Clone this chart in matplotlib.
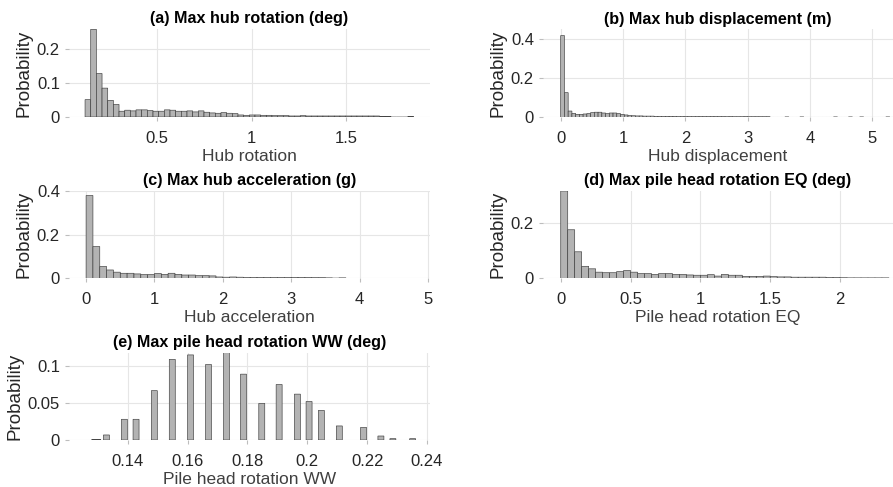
import matplotlib
matplotlib.use('Agg')
import matplotlib.pyplot as plt
from matplotlib.ticker import FuncFormatter
import numpy as np

plt.rcParams['font.family'] = ['Liberation Sans', 'DejaVu Sans']

# (a) hub rotation, bins of 0.03 starting at 0.117
a_start, a_width = 0.117, 0.03
a_prob = [0.051, 0.258, 0.128, 0.085, 0.049, 0.037, 0.017, 0.020, 0.018, 0.021,
          0.021, 0.019, 0.017, 0.017, 0.021, 0.020, 0.017, 0.017, 0.018, 0.015,
          0.018, 0.014, 0.012, 0.011, 0.013, 0.011, 0.010, 0.006, 0.005, 0.006,
          0.006, 0.005, 0.005, 0.004, 0.004, 0.004, 0.003, 0.003, 0.004, 0.003,
          0.003, 0.003, 0.003, 0.003, 0.003, 0.003, 0.003, 0.003, 0.003, 0.003,
          0.003, 0.003, 0.002, 0.002, 0.0, 0.0, 0.0, 0.002]

# (b) hub displacement, bins of 0.06 starting at 0
b_start, b_width = 0.0, 0.06
b_prob = [0.418, 0.126, 0.032, 0.020, 0.015, 0.015, 0.017, 0.019, 0.024, 0.026,
          0.026, 0.022, 0.019, 0.022, 0.022, 0.019, 0.015, 0.012, 0.009, 0.008,
          0.007, 0.007, 0.006, 0.006, 0.006, 0.005, 0.005, 0.005, 0.005, 0.005,
          0.005, 0.004, 0.004, 0.004, 0.004, 0.004, 0.004, 0.004, 0.004, 0.004,
          0.004, 0.004, 0.004, 0.004, 0.003, 0.004, 0.003, 0.003, 0.003, 0.004,
          0.003, 0.003, 0.003, 0.003, 0.003, 0.003, 0.0, 0.0, 0.0, 0.0,
          0.002, 0.0, 0.0, 0.0, 0.002, 0.0, 0.0, 0.0, 0.0, 0.0,
          0.0, 0.0, 0.0, 0.002, 0.0, 0.0, 0.0, 0.002, 0.0, 0.0,
          0.002, 0.0, 0.0, 0.0, 0.0, 0.0, 0.0, 0.002, 0.0]

# (c) hub acceleration, bins of 0.1 starting at 0
c_start, c_width = 0.0, 0.1
c_prob = [0.378, 0.145, 0.054, 0.038, 0.028, 0.023, 0.023, 0.020, 0.017, 0.017,
          0.022, 0.018, 0.023, 0.018, 0.015, 0.015, 0.012, 0.012, 0.011, 0.006,
          0.005, 0.006, 0.005, 0.004, 0.004, 0.004, 0.004, 0.004, 0.004, 0.004,
          0.004, 0.004, 0.004, 0.003, 0.003, 0.002, 0.001, 0.002]

# (d) pile head rotation EQ, bins of 0.05 starting at 0
d_start, d_width = 0.0, 0.05
d_prob = [0.313, 0.174, 0.095, 0.043, 0.034, 0.022, 0.020, 0.020, 0.024, 0.028,
          0.022, 0.017, 0.017, 0.014, 0.017, 0.017, 0.014, 0.014, 0.012, 0.011,
          0.011, 0.013, 0.008, 0.014, 0.011, 0.011, 0.007, 0.007, 0.007, 0.008,
          0.006, 0.005, 0.005, 0.004, 0.004, 0.004, 0.004, 0.004, 0.003, 0.003,
          0.002, 0.0015, 0.0015, 0.0015, 0.0015, 0.0015, 0.0015]

# (e) pile head rotation WW, discrete values
e_vals = [0.1295, 0.1329, 0.1389, 0.1428, 0.1489, 0.1549, 0.1610, 0.1670, 0.1730,
          0.1787, 0.1848, 0.1906, 0.1967, 0.2006, 0.2047, 0.2107, 0.2188, 0.2246,
          0.2286, 0.2352]
e_prob = [0.0008, 0.0068, 0.028, 0.028, 0.0667, 0.109, 0.115, 0.102, 0.118,
          0.089, 0.0495, 0.075, 0.062, 0.052, 0.040, 0.019, 0.017, 0.0054,
          0.0018, 0.0018]
e_widths = [0.003] + [0.002] * 19

FACE = '#b3b3b3'
EDGE = '#3c3c3c'
fmt = FuncFormatter(lambda v, p: '%g' % round(v, 4))


def style(ax, title, xlabel, xlim, ylim, xticks, yticks):
    ax.set_xlim(xlim)
    ax.set_ylim(ylim)
    ax.set_xticks(xticks)
    ax.set_yticks(yticks)
    ax.xaxis.set_major_formatter(fmt)
    ax.yaxis.set_major_formatter(fmt)
    ax.grid(True, color='#e6e6e6', lw=0.8)
    ax.set_axisbelow(True)
    for s in ax.spines.values():
        s.set_visible(False)
    ax.tick_params(axis='both', colors='#bdbdbd', labelcolor='#262626',
                   labelsize=12, length=3, width=0.8)
    ax.tick_params(axis='x', pad=7)
    ax.set_title(title, fontsize=11.6, fontweight='bold', pad=4)
    ax.set_xlabel(xlabel, fontsize=12.5, color='#404040', labelpad=2)
    ax.set_ylabel('Probability', fontsize=13.5, color='#262626', labelpad=3)


def hist_bars(ax, start, width, prob):
    edges = start + width * np.arange(len(prob))
    ax.bar(edges, prob, width=width, align='edge', color=FACE,
           edgecolor=EDGE, linewidth=0.45, snap=False)


fig = plt.figure(figsize=(8.93, 4.87), dpi=100)

ax_a = fig.add_axes([69 / 893, 1 - 117 / 487, 361 / 893, 88 / 487])
hist_bars(ax_a, a_start, a_width, a_prob)
style(ax_a, '(a) Max hub rotation (deg)', 'Hub rotation',
      (0.032, 1.944), (0, 0.259), [0.5, 1, 1.5], [0, 0.1, 0.2])

ax_b = fig.add_axes([543 / 893, 1 - 117.3 / 487, 350 / 893, 88 / 487])
hist_bars(ax_b, b_start, b_width, b_prob)
style(ax_b, '(b) Max hub displacement (m)', 'Hub displacement',
      (-0.284, 5.333), (0, 0.45), [0, 1, 2, 3, 4, 5], [0, 0.2, 0.4])

ax_c = fig.add_axes([69 / 893, 1 - 278.3 / 487, 361 / 893, 87.6 / 487])
hist_bars(ax_c, c_start, c_width, c_prob)
style(ax_c, '(c) Max hub acceleration (g)', 'Hub acceleration',
      (-0.25, 5.03), (0, 0.4), [0, 1, 2, 3, 4, 5], [0, 0.2, 0.4])

ax_d = fig.add_axes([543 / 893, 1 - 278.3 / 487, 350 / 893, 87.6 / 487])
hist_bars(ax_d, d_start, d_width, d_prob)
style(ax_d, '(d) Max pile head rotation EQ (deg)', 'Pile head rotation EQ',
      (-0.127, 2.379), (0, 0.314), [0, 0.5, 1, 1.5, 2], [0, 0.2])

ax_e = fig.add_axes([69 / 893, 1 - 440 / 487, 361 / 893, 87.3 / 487])
ax_e.bar(e_vals, e_prob, width=e_widths, color=FACE, edgecolor=EDGE,
         linewidth=0.45, snap=False)
style(ax_e, '(e) Max pile head rotation WW (deg)', 'Pile head rotation WW',
      (0.1204, 0.241), (0, 0.118), [0.14, 0.16, 0.18, 0.2, 0.22, 0.24], [0, 0.05, 0.1])

fig.savefig('out.png', dpi=100)
